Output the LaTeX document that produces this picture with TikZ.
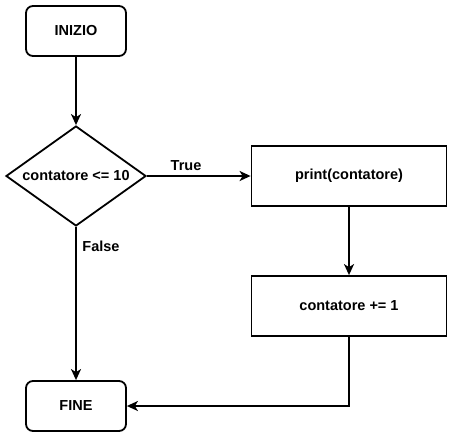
\documentclass[tikz,border=0pt]{standalone}
\usepackage{fontspec}
\setmainfont{Liberation Sans}
\usetikzlibrary{arrows.meta,shapes.geometric}
\begin{document}
\begin{tikzpicture}[x=1pt,y=-1pt,
  every node/.style={font=\fontsize{14.5}{16}\selectfont\bfseries},
  term/.style={draw,line width=1.8pt,rounded corners=7pt,minimum width=100pt,minimum height=50pt,inner sep=0pt},
  proc/.style={draw,line width=1.8pt,minimum width=195pt,minimum height=60pt,inner sep=0pt},
  dec/.style={draw,line width=1.8pt,shape=diamond,minimum width=140pt,minimum height=100pt,inner sep=0pt,aspect=1.4},
  conn/.style={line width=1.8pt,-{Stealth[length=11pt,width=10pt,inset=3pt]}},
  lbl/.style={inner sep=0pt}]
\useasboundingbox (0,0) rectangle (452,437);
\node[term] (start) at (76,31) {INIZIO};
\node[dec] (cond) at (76,176) {};
\node (condtext) at (76,176) {contatore <= 10};
\node[proc] (print) at (349,176) {print(contatore)};
\node[proc] (inc) at (349,306) {contatore += 1};
\node[term] (fine) at (76,406) {FINE};
\draw[conn] (start) -- (cond.north);
\draw[conn] (cond.east) -- (print.west);
\draw[conn] (cond.south) -- (fine.north);
\draw[conn] (print) -- (inc);
\draw[conn] (inc.south) |- (fine.east);
\node[lbl] (truelbl) at (186,166) {True};
\node[lbl] (falselbl) at (101,246) {False};
\end{tikzpicture}
\end{document}
